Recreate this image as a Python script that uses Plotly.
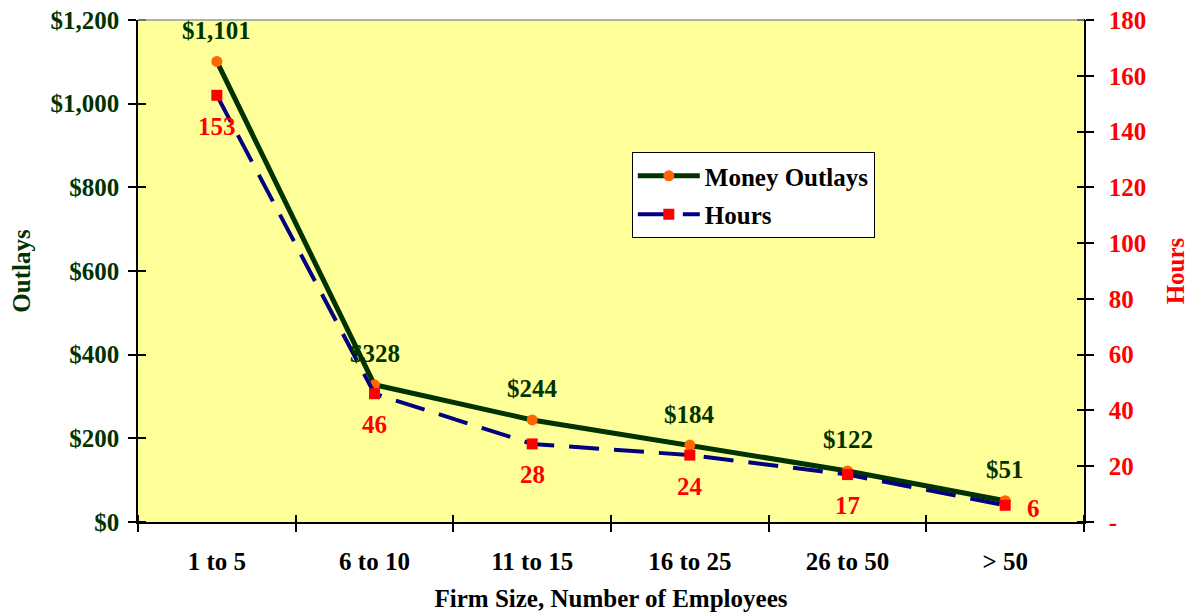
import plotly.graph_objects as go

categories = ["1 to 5", "6 to 10", "11 to 15", "16 to 25", "26 to 50", "> 50"]
money_outlays = [1101, 328, 244, 184, 122, 51]
hours = [153, 46, 28, 24, 17, 6]
left_ticks = [0, 200, 400, 600, 800, 1000, 1200]
left_ticktext = ["$0", "$200", "$400", "$600", "$800", "$1,000", "$1,200"]
right_ticks = [0, 20, 40, 60, 80, 100, 120, 140, 160, 180]
right_ticktext = ["-", "20", "40", "60", "80", "100", "120", "140", "160", "180"]

GREEN = "#003300"
RED = "#FF0000"
FONT = "Liberation Serif"
FS = 25

# page body has an 8px margin, so the figure is drawn 8px right/down of the window origin
W, H = 1185, 604
ML, MR, MT, MB = 130, 109, 12, 90
PW = W - ML - MR
PH = H - MT - MB
TL = 8  # half tick length


def bold(color):
    return dict(family=FONT, size=FS, color=color, weight="bold")


fig = go.Figure()
# invisible helper traces that activate overlay axes used for the inner half of tick marks
fig.add_trace(go.Scatter(x=categories, y=money_outlays, mode="markers", marker=dict(opacity=0),
                         showlegend=False, hoverinfo="skip", xaxis="x2", yaxis="y3"))
fig.add_trace(go.Scatter(x=categories, y=hours, mode="markers", marker=dict(opacity=0),
                         showlegend=False, hoverinfo="skip", xaxis="x2", yaxis="y4"))

fig.add_trace(go.Scatter(
    x=categories, y=money_outlays, name="Money Outlays", mode="lines+markers", legendgroup="a",
    line=dict(color=GREEN, width=5), marker=dict(color="#FF6600", size=11, symbol="circle"),
    xaxis="x", yaxis="y", hoverinfo="x+y"))
fig.add_trace(go.Scatter(
    x=categories, y=hours, name="Hours", mode="lines+markers", legendgroup="b",
    line=dict(color="#000080", width=4, dash="30px,15px"),
    marker=dict(color=RED, size=11, symbol="square"),
    xaxis="x", yaxis="y2", hoverinfo="x+y"))

annotations = []
for c, v in zip(categories, money_outlays):
    annotations.append(dict(x=c, y=v, xref="x", yref="y", text=f"${v:,}", showarrow=False,
                            yshift=31, font=bold(GREEN)))
for i, (c, v) in enumerate(zip(categories, hours)):
    last = i == len(categories) - 1
    annotations.append(dict(x=c, y=v, xref="x", yref="y2", text=str(v), showarrow=False,
                            yshift=-3 if last else -31, xshift=28 if last else 0,
                            font=bold(RED)))

axis_common = dict(showgrid=False, zeroline=False, linecolor="black", linewidth=1.5,
                   tickcolor="black", ticklen=TL, tickwidth=1.5, automargin=False,
                   ticklabeloverflow="allow")
inner_common = dict(ticks="outside", showticklabels=False, showline=False, showgrid=False,
                    zeroline=False, tickcolor="black", ticklen=TL, tickwidth=1.5,
                    automargin=False, anchor="free")

fig.update_layout(
    width=W, height=H,
    margin=dict(l=ML, r=MR, t=MT, b=MB),
    paper_bgcolor="white", plot_bgcolor="#FFFF99",
    font=dict(family=FONT, size=FS),
    showlegend=True,
    legend=dict(x=0.522, y=0.737, xanchor="left", yanchor="top",
                bgcolor="white", bordercolor="black", borderwidth=1,
                font=bold("black"), tracegroupgap=3, itemwidth=62),
    xaxis=dict(type="category", categoryorder="array", categoryarray=categories,
               range=[-0.5, len(categories) - 0.5], ticks="outside", tickson="boundaries",
               tickfont=bold("black"), ticklabelstandoff=16,
               title=dict(text="Firm Size, Number of Employees", font=bold("black"), standoff=16),
               showline=True, **axis_common),
    xaxis2=dict(type="category", categoryorder="array", categoryarray=categories,
                range=[-0.5, len(categories) - 0.5], overlaying="x", side="bottom",
                position=TL / PH, tickson="boundaries", **inner_common),
    yaxis=dict(range=[0, 1200], tickvals=left_ticks, ticktext=left_ticktext,
               ticks="outside", tickfont=bold(GREEN), ticklabelstandoff=4,
               title=dict(text="Outlays", font=bold(GREEN), standoff=16),
               showline=True, **axis_common),
    yaxis2=dict(range=[0, 180], tickvals=right_ticks, ticktext=right_ticktext,
                overlaying="y", side="right", anchor="x",
                ticks="outside", tickfont=bold(RED), ticklabelstandoff=10,
                title=dict(text="Hours", font=bold(RED), standoff=21),
                showline=True, **axis_common),
    yaxis3=dict(range=[0, 1200], tickvals=left_ticks, overlaying="y", side="left",
                position=TL / PW, **inner_common),
    yaxis4=dict(range=[0, 180], tickvals=right_ticks, overlaying="y", side="right",
                position=1 - TL / PW, **inner_common),
    annotations=annotations,
    shapes=[dict(type="line", xref="paper", yref="paper", x0=0, x1=1, y0=1, y1=1,
                 line=dict(color="#999999", width=1.5))],
)

fig.write_html("out.html")
